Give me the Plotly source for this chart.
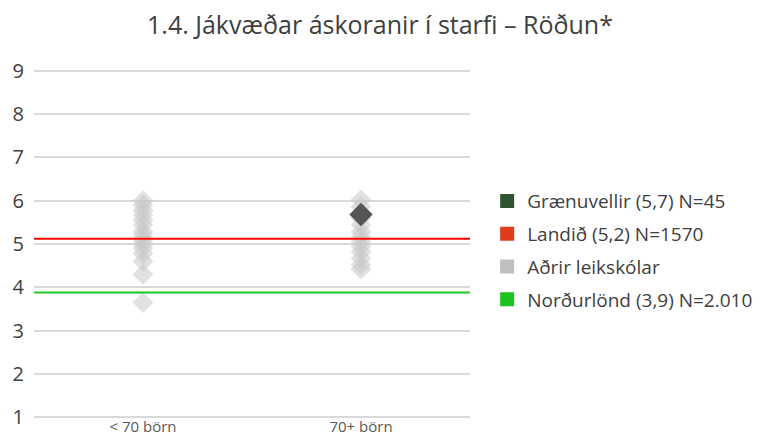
import plotly.graph_objects as go

categories = ["< 70 börn", "70+ börn"]
others_small = [6.0, 5.9, 5.78, 5.67, 5.55, 5.44, 5.28, 5.2, 5.1, 5.0, 4.9, 4.78, 4.6, 4.3, 3.65]
others_large = [6.02, 5.86, 5.6, 5.44, 5.28, 5.17, 5.05, 4.94, 4.82, 4.67, 4.52, 4.42]
school_cat = "70+ börn"
school_value = 5.68
national_value = 5.12
nordic_value = 3.88
legend_names = ["Grænuvellir (5,7) N=45", "Landið (5,2) N=1570", "Aðrir leikskólar", "Norðurlönd (3,9) N=2.010"]
legend_colors = ["#2e5530", "#e03c1a", "#bfbfbf", "#1ec41e"]
y_ticks = [1, 2, 3, 4, 5, 6, 7, 8, 9]

fig = go.Figure()

fig.add_trace(go.Scatter(
    x=[categories[0]] * len(others_small) + [categories[1]] * len(others_large),
    y=others_small + others_large,
    mode="markers",
    marker=dict(symbol="diamond", size=16, color="rgba(200,200,200,0.55)", line=dict(width=0)),
    showlegend=False, hoverinfo="y",
))
fig.add_trace(go.Scatter(
    x=[school_cat], y=[school_value], mode="markers",
    marker=dict(symbol="diamond", size=18, color="#555555", line=dict(width=0)),
    showlegend=False,
))

for i, (name, col) in enumerate(zip(legend_names, legend_colors)):
    fig.add_trace(go.Scatter(
        x=[None], y=[None], mode="markers", name=name, legendgroup=f"g{i}",
        marker=dict(symbol="square", size=14, color=col),
    ))

fig.add_hline(y=national_value, line=dict(color="#ff0000", width=2))
fig.add_hline(y=nordic_value, line=dict(color="#1ec41e", width=2))

fig.update_layout(
    width=760, height=438,
    margin=dict(l=34, r=290, t=69, b=19, autoexpand=False),
    paper_bgcolor="white", plot_bgcolor="white",
    font=dict(family="Open Sans", color="#404040"),
    title=dict(text="1.4. Jákvæðar áskoranir í starfi – Röðun*", x=0.5, xanchor="center",
               xref="container", y=0.942, yref="container", yanchor="middle",
               font=dict(size=25, color="#404040")),
    xaxis=dict(type="category", categoryarray=categories, range=[-0.5, 1.5],
               showgrid=False, zeroline=False, showline=False, automargin=False,
               tickfont=dict(size=15, color="#595959"), ticks="", ticklabelstandoff=-3),
    yaxis=dict(range=[0.96, 9.04], tickvals=y_ticks, showgrid=True, gridcolor="#d9d9d9",
               gridwidth=2, zeroline=False, showline=False, automargin=False,
               tickfont=dict(size=20, color="#404040"), ticklabelstandoff=9),
    legend=dict(x=0.641, xref="container", y=0.584, yref="container",
                xanchor="left", yanchor="top",
                font=dict(size=19, color="#404040"), tracegroupgap=5,
                itemwidth=30, bgcolor="rgba(0,0,0,0)"),
)

fig.write_html("out.html", config={"displayModeBar": False},
               post_script="document.body.style.margin='0';")
